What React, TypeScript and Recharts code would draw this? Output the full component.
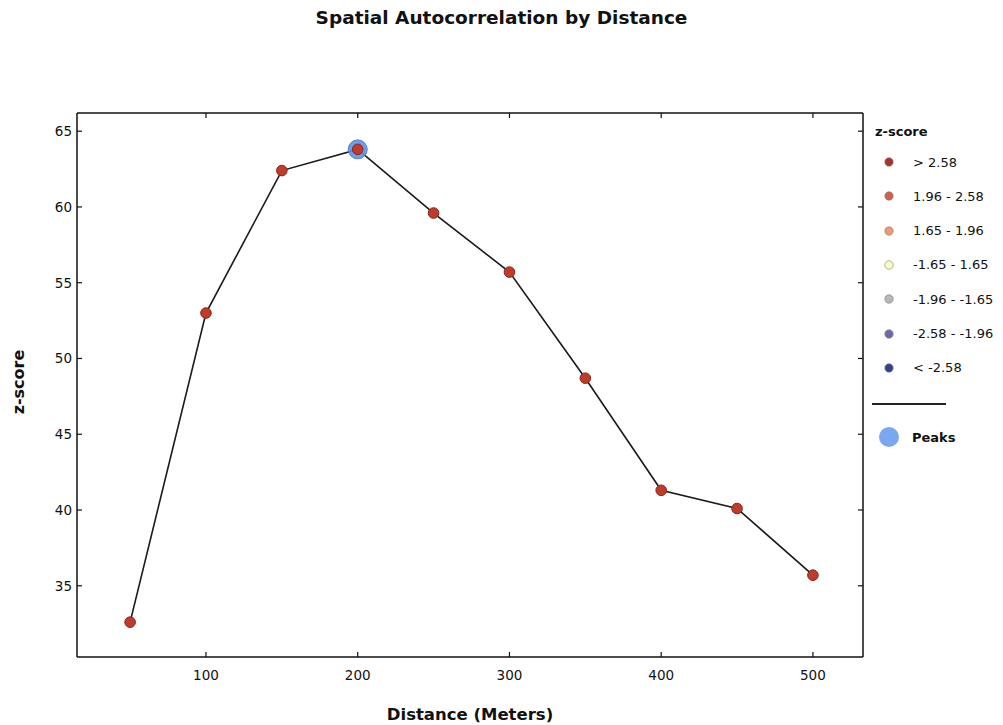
import React from "react";
import { ComposedChart, Line, Scatter, XAxis, YAxis } from "recharts";

// Incremental spatial autocorrelation: z-score per distance band, peak marked in blue.

const distances = [50, 100, 150, 200, 250, 300, 350, 400, 450, 500];
const zScores = [32.6, 53.0, 62.4, 63.8, 59.6, 55.7, 48.7, 41.3, 40.1, 35.7];
const peakDistances = [200];
const xTicks = [100, 200, 300, 400, 500];
const yTicks = [35, 40, 45, 50, 55, 60, 65];
const legendLabels = ["> 2.58", "1.96 - 2.58", "1.65 - 1.96", "-1.65 - 1.65", "-1.96 - -1.65", "-2.58 - -1.96", "< -2.58"];
const legendColors = ["#a8332a", "#d0604a", "#f09a72", "#ffffc0", "#b8b8b8", "#6a6aaa", "#34448a"];

const rows = distances.map((d, i) => ({ distance: d, z: zScores[i] }));
const peaks = rows.filter((r) => peakDistances.includes(r.distance));

const FONT = "'DejaVu Sans', sans-serif";
const M = 10; // tick margin
const TL = 5; // inward tick length

const RedDot = (p: any) => (
  <circle cx={p.cx} cy={p.cy} r={5.3} fill="#bf3b2c" stroke="#8a2419" strokeWidth={1} />
);
const PeakDot = (p: any) => (
  <circle cx={p.cx} cy={p.cy} r={9.5} fill="#5f93e6" fillOpacity={0.9} stroke="#4f82d6" strokeWidth={1} />
);

const BottomTick = (p: any) => (
  <g>
    <line x1={p.x} x2={p.x} y1={p.y - M} y2={p.y - M - TL} stroke="#111" strokeWidth={1.2} />
    <text x={p.x} y={p.y + 3} dy="0.71em" textAnchor="middle" fontSize={13.5} fill="#111" fontFamily={FONT}>{p.payload.value}</text>
  </g>
);
const LeftTick = (p: any) => (
  <g>
    <line x1={p.x + M} x2={p.x + M + TL} y1={p.y} y2={p.y} stroke="#111" strokeWidth={1.2} />
    <text x={p.x + 5} y={p.y} dy="0.355em" textAnchor="end" fontSize={13.5} fill="#111" fontFamily={FONT}>{p.payload.value}</text>
  </g>
);
const TopTick = (p: any) => (
  <line x1={p.x} x2={p.x} y1={p.y + M} y2={p.y + M + TL} stroke="#111" strokeWidth={1.2} />
);
const RightTick = (p: any) => (
  <line x1={p.x - M} x2={p.x - M - TL} y1={p.y} y2={p.y} stroke="#111" strokeWidth={1.2} />
);

export default function App() {
  return (
    <div style={{ position: "absolute", left: 0, top: 0, width: 1003, height: 725, background: "#fff", fontFamily: FONT }}>
      <div style={{ position: "absolute", left: 0, width: 1003, top: 7, textAlign: "center", fontSize: 18.5, fontWeight: "bold", color: "#111" }}>
        Spatial Autocorrelation by Distance
      </div>
      <div style={{ position: "absolute", left: 18, top: 382, transform: "translate(-50%, -50%) rotate(-90deg)", fontSize: 16, fontWeight: "bold", color: "#111", whiteSpace: "nowrap" }}>
        z-score
      </div>
      <ComposedChart width={1003} height={725} data={rows} margin={{ top: 112, right: 139, bottom: 0, left: 0 }}>
        <XAxis xAxisId="b" type="number" dataKey="distance" domain={[15, 533]} ticks={xTicks} allowDataOverflow
          height={68} tick={BottomTick} tickLine={false} tickSize={0} tickMargin={M} stroke="#111" strokeWidth={1.5}
          label={{ value: "Distance (Meters)", position: "insideBottom", offset: 5, fontSize: 16.5, fontWeight: "bold", fill: "#111", fontFamily: FONT }} />
        <XAxis xAxisId="t" orientation="top" type="number" dataKey="distance" domain={[15, 533]} ticks={xTicks} allowDataOverflow
          height={1} tick={TopTick} tickLine={false} tickSize={0} tickMargin={M} stroke="#111" strokeWidth={1.5} />
        <YAxis yAxisId="l" type="number" domain={[30.3, 66.2]} ticks={yTicks} allowDataOverflow width={77}
          tick={LeftTick} tickLine={false} tickSize={0} tickMargin={M} stroke="#111" strokeWidth={1.5} />
        <YAxis yAxisId="r" orientation="right" type="number" domain={[30.3, 66.2]} ticks={yTicks} allowDataOverflow width={1}
          tick={RightTick} tickLine={false} tickSize={0} tickMargin={M} stroke="#111" strokeWidth={1.5} />
        <Line xAxisId="b" yAxisId="l" type="linear" dataKey="z" stroke="#1a1a1a" strokeWidth={1.6} dot={false} isAnimationActive={false} />
        <Scatter xAxisId="b" yAxisId="l" data={peaks} dataKey="z" shape={PeakDot} isAnimationActive={false} />
        <Scatter xAxisId="b" yAxisId="l" data={rows} dataKey="z" shape={RedDot} isAnimationActive={false} />
      </ComposedChart>
      <div style={{ position: "absolute", left: 875, top: 124, fontSize: 13, fontWeight: "bold", color: "#111" }}>z-score</div>
      {legendLabels.map((lab, i) => (
        <div key={lab} style={{ position: "absolute", left: 882, top: 152 + i * 34.3, height: 20, display: "flex", alignItems: "center", fontSize: 13, color: "#111" }}>
          <svg width={14} height={14} style={{ marginRight: 17 }}>
            <circle cx={7} cy={7} r={4.2} fill={legendColors[i]} stroke="#777" strokeWidth={0.6} />
          </svg>
          {lab}
        </div>
      ))}
      <div style={{ position: "absolute", left: 872, top: 403, width: 74, height: 1.6, background: "#222" }} />
      <div style={{ position: "absolute", left: 878, top: 426, height: 22, display: "flex", alignItems: "center", fontSize: 13, fontWeight: "bold", color: "#111" }}>
        <svg width={22} height={22} style={{ marginRight: 12 }}>
          <circle cx={11} cy={11} r={10} fill="#7aa8f0" />
        </svg>
        Peaks
      </div>
    </div>
  );
}
